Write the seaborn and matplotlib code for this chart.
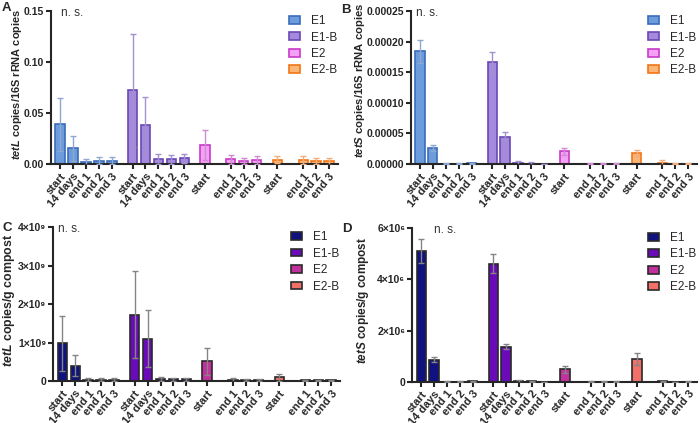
import numpy as np
import pandas as pd
import matplotlib
matplotlib.use("Agg")
import matplotlib.pyplot as plt
import seaborn as sns

# --- DATA ---
GROUPS = ["E1"] * 5 + ["E1-B"] * 5 + ["E2"] * 4 + ["E2-B"] * 4
TIMEPOINTS = ["start", "14 days", "end 1", "end 2", "end 3",
              "start", "14 days", "end 1", "end 2", "end 3",
              "start", "end 1", "end 2", "end 3",
              "start", "end 1", "end 2", "end 3"]

# A: tetL / 16S rRNA
TETL_REL = [0.0392, 0.0154, 0.0023, 0.0033, 0.0033,
            0.0722, 0.0379, 0.0049, 0.0049, 0.0056,
            0.0186, 0.0046, 0.0030, 0.0039,
            0.0042, 0.0039, 0.0030, 0.0026]
TETL_REL_SD = [0.026, 0.012, 0.003, 0.0036, 0.0033,
               0.055, 0.028, 0.0046, 0.0043, 0.0042,
               0.0147, 0.0046, 0.003, 0.004,
               0.0033, 0.0036, 0.003, 0.003]
# B: tetS / 16S rRNA
TETS_REL = [1.84e-4, 2.7e-5, 1e-6, 1e-6, 1.5e-6,
            1.67e-4, 4.47e-5, 1.5e-6, 1e-6, 0.5e-6,
            2.07e-5, 1e-6, 1e-6, 1e-6,
            1.74e-5, 2e-6, 1e-6, 1e-6]
TETS_REL_SD = [1.9e-5, 5e-6, 0.5e-6, 0.5e-6, 1e-6,
               1.6e-5, 7e-6, 4e-6, 1.7e-6, 0.5e-6,
               5e-6, 1e-6, 1.5e-6, 1.5e-6,
               4.9e-6, 4e-6, 1.5e-6, 1.5e-6]
# C: tetL per g compost
TETL_ABS = [9.8e8, 4.0e8, 4e7, 4e7, 4e7,
            1.73e9, 1.1e9, 6e7, 5e7, 5e7,
            5.2e8, 4e7, 3.5e7, 3e7,
            1.04e8, 2.5e7, 2e7, 2e7]
TETL_ABS_SD = [7.1e8, 2.7e8, 3e7, 3e7, 3e7,
               1.13e9, 7.4e8, 5e7, 4e7, 4e7,
               3.5e8, 5e7, 2e7, 2e7,
               9e7, 1.5e7, 1e7, 1e7]
# D: tetS per g compost
TETS_ABS = [5.11e6, 8.7e5, 1e4, 1e4, 2e4,
            4.6e6, 1.37e6, 2.6e4, 2e4, 5e3,
            4.95e5, 1e4, 1e4, 1e4,
            9.0e5, 2e4, 5e3, 1e4]
TETS_ABS_SD = [4.8e5, 1.1e5, 1e4, 1e4, 1e4,
               3.7e5, 1e5, 5e4, 3e4, 5e3,
               1.3e5, 1e4, 1e4, 1e4,
               2.2e5, 2e4, 5e3, 1e4]

GROUP_ORDER = ["E1", "E1-B", "E2", "E2-B"]
SLOTS = ["start", "14 days", "end 1", "end 2", "end 3"]
GROUP_STEP = 5.6

# --- STYLE ---
sns.set_style("ticks")
plt.rcParams["font.family"] = ["Liberation Sans", "DejaVu Sans"]
plt.rcParams["mathtext.fontset"] = "custom"
plt.rcParams["mathtext.it"] = "Liberation Sans:italic:bold"
plt.rcParams["mathtext.rm"] = "Liberation Sans:bold"

LIGHT_FILL = {"E1": "#6c9cdb", "E1-B": "#a589dc", "E2": "#f4a0f4", "E2-B": "#fab676"}
LIGHT_EDGE = {"E1": "#3a6cba", "E1-B": "#6a48b4", "E2": "#c83ac8", "E2-B": "#f27416"}
LIGHT_ERR = {"E1": "#8ea8d4", "E1-B": "#a392cf", "E2": "#d08cd0", "E2-B": "#f2ae7c"}
DARK_FILL = {"E1": "#10127f", "E1-B": "#6a0ab9", "E2": "#c2309e", "E2-B": "#f27068"}
DARK_EDGE = {g: "#2a2a2a" for g in GROUP_ORDER}
DARK_ERR = {g: "#858585" for g in GROUP_ORDER}

# x position of each bar: group offset + slot within the group
xpos = [GROUP_ORDER.index(g) * GROUP_STEP + SLOTS.index(t)
        for g, t in zip(GROUPS, TIMEPOINTS)]


def sci_label(v, exp):
    if v == 0:
        return "0"
    sup = str.maketrans("0123456789", "⁰¹²³⁴⁵⁶⁷⁸⁹")
    return f"{v / 10**exp:.0f}×10{str(exp).translate(sup)}"


def draw_panel(ax, values, sds, fill, edge, errc, ylabel, ylabel_size, label_xy,
               yticks, yticklabels, ns_x):
    df = pd.DataFrame({"x": xpos, "value": values, "sd": sds, "group": GROUPS})
    sns.barplot(data=df, x="x", y="value", hue="group", hue_order=GROUP_ORDER,
                palette=fill, saturation=1, native_scale=True, dodge=False,
                errorbar=None, width=0.72, linewidth=1.2, legend=False, ax=ax)
    for cont, g in zip(ax.containers, GROUP_ORDER):
        for p in cont:
            p.set_edgecolor(edge[g])
            p.set_linewidth(1.2)
    for g in GROUP_ORDER:
        sub = df[df["group"] == g]
        ax.errorbar(sub["x"], sub["value"], yerr=sub["sd"], fmt="none",
                    ecolor=errc[g], elinewidth=1.0, capsize=2, capthick=1.0, zorder=5)
    ax.set_xlim(-0.7, 21.5)
    ax.set_ylim(yticks[0], yticks[-1])
    ax.set_yticks(yticks)
    ax.set_yticklabels(yticklabels, fontweight="bold", fontsize=7.5)
    ax.set_xticks(xpos)
    ax.set_xticklabels(TIMEPOINTS, rotation=50, ha="right", rotation_mode="anchor",
                       fontweight="bold", fontsize=8)
    ax.set_xlabel("")
    ax.set_ylabel(ylabel, fontweight="bold", fontsize=ylabel_size)
    ax.yaxis.set_label_coords(*label_xy)
    ax.tick_params(width=1.5, length=3.5, pad=1.5)
    for s in ["left", "bottom"]:
        ax.spines[s].set_linewidth(1.5)
    sns.despine(ax=ax)
    ax.text(ns_x, 0.985, "n. s.", transform=ax.transAxes, fontsize=8.5,
            color="#333333", va="center", ha="left")
    ax.legend(handles=list(ax.containers), labels=GROUP_ORDER, loc="upper right",
              bbox_to_anchor=(1.02, 1.02), frameon=False, fontsize=8.5,
              handlelength=0.9, handleheight=0.65, handletextpad=0.9,
              labelspacing=0.38, borderaxespad=0.2)


fig = plt.figure(figsize=(7.0, 4.23), dpi=100)
axA = fig.add_axes([0.073, 0.612, 0.410, 0.362])
axB = fig.add_axes([0.587, 0.612, 0.409, 0.362])
axC = fig.add_axes([0.076, 0.099, 0.410, 0.364])
axD = fig.add_axes([0.589, 0.097, 0.407, 0.364])

draw_panel(axA, TETL_REL, TETL_REL_SD, LIGHT_FILL, LIGHT_EDGE, LIGHT_ERR,
           r"$\mathit{tetL}$ copies/16S rRNA copies", 7.9, (-0.095, 0.52),
           [0, 0.05, 0.10, 0.15], ["0.00", "0.05", "0.10", "0.15"], 0.035)
draw_panel(axB, TETS_REL, TETS_REL_SD, LIGHT_FILL, LIGHT_EDGE, LIGHT_ERR,
           r"$\mathit{tetS}$ copies/16S rRNA copies", 8.1, (-0.154, 0.55),
           [0, 5e-5, 1e-4, 1.5e-4, 2e-4, 2.5e-4],
           ["0.00000", "0.00005", "0.00010", "0.00015", "0.00020", "0.00025"], 0.018)
tc = [0, 1e9, 2e9, 3e9, 4e9]
draw_panel(axC, TETL_ABS, TETL_ABS_SD, DARK_FILL, DARK_EDGE, DARK_ERR,
           r"$\mathit{tetL}$ copies/g compost", 8.9, (-0.125, 0.525),
           tc, [sci_label(v, 9) for v in tc], 0.015)
td = [0, 2e6, 4e6, 6e6]
draw_panel(axD, TETS_ABS, TETS_ABS_SD, DARK_FILL, DARK_EDGE, DARK_ERR,
           r"$\mathit{tetS}$ copies/g compost", 8.5, (-0.144, 0.532),
           td, [sci_label(v, 6) for v in td], 0.075)

for lbl, x, y in [("A", 0.003, 0.995), ("B", 0.487, 0.99), ("C", 0.004, 0.475), ("D", 0.489, 0.472)]:
    fig.text(x, y, lbl, fontsize=9.5, fontweight="bold", va="top", ha="left")

fig.savefig("out.png", dpi=100)
